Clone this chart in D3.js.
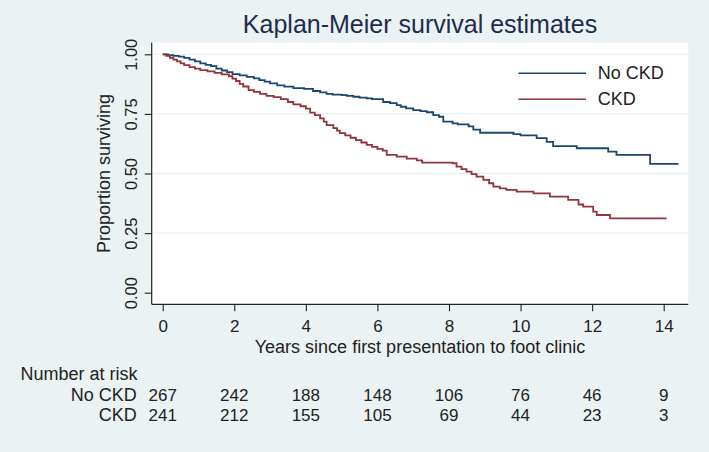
<!DOCTYPE html>
<html>
<head>
<meta charset="utf-8">
<script src="https://cdn.jsdelivr.net/npm/d3@7"></script>
<style>
  html, body { margin: 0; padding: 0; background: #EAF2F3; }
  svg { display: block; }
  text { font-family: "Liberation Sans", Arial, sans-serif; }
</style>
</head>
<body>
<svg id="chart" width="709" height="452"></svg>
<script>
// ---- data ----
const yTicks = [0, 0.25, 0.5, 0.75, 1.0];
const xTicks = [0, 2, 4, 6, 8, 10, 12, 14];
const seriesNames = ["No CKD", "CKD"];

const noCkdTime = [0, 0.15, 0.3, 0.45, 0.6, 0.75, 0.9, 1.05, 1.2, 1.35, 1.5, 1.65, 1.8, 1.95, 2.15, 2.35, 2.55, 2.7, 2.85, 3.0, 3.2, 3.4, 3.65, 3.95, 4.2, 4.4, 4.58, 4.75, 5.0, 5.15, 5.33, 5.5, 5.7, 5.85, 6.16, 6.35, 6.54, 6.65, 6.8, 7.0, 7.2, 7.38, 7.56, 7.72, 7.84, 8.1, 8.25, 8.55, 8.68, 8.87, 9.8, 10.0, 10.45, 10.73, 10.91, 11.57, 12.45, 12.68, 13.62];
const noCkdSurv = [1.0, 0.996, 0.993, 0.990, 0.985, 0.978, 0.970, 0.962, 0.956, 0.950, 0.940, 0.932, 0.925, 0.917, 0.912, 0.905, 0.899, 0.892, 0.885, 0.878, 0.870, 0.864, 0.858, 0.855, 0.846, 0.840, 0.834, 0.831, 0.829, 0.826, 0.822, 0.818, 0.815, 0.812, 0.800, 0.795, 0.787, 0.780, 0.773, 0.766, 0.762, 0.757, 0.745, 0.738, 0.718, 0.710, 0.706, 0.698, 0.684, 0.671, 0.665, 0.660, 0.648, 0.633, 0.615, 0.606, 0.592, 0.578, 0.540];
const noCkdEnd = 14.41;

const ckdTime = [0, 0.1, 0.2, 0.3, 0.4, 0.5, 0.6, 0.75, 0.9, 1.05, 1.25, 1.45, 1.65, 1.85, 1.95, 2.05, 2.15, 2.25, 2.4, 2.55, 2.72, 2.9, 3.1, 3.3, 3.5, 3.65, 3.85, 4.0, 4.12, 4.25, 4.4, 4.5, 4.58, 4.77, 4.87, 4.95, 5.1, 5.25, 5.4, 5.55, 5.7, 5.85, 6.0, 6.15, 6.26, 6.54, 6.82, 7.1, 7.25, 8.1, 8.21, 8.35, 8.49, 8.63, 8.77, 8.96, 9.12, 9.24, 9.42, 9.6, 9.89, 10.36, 10.82, 11.33, 11.62, 11.75, 12.03, 12.13, 12.5];
const ckdSurv = [1.0, 0.993, 0.985, 0.978, 0.970, 0.962, 0.955, 0.946, 0.940, 0.934, 0.928, 0.922, 0.916, 0.908, 0.898, 0.888, 0.876, 0.865, 0.850, 0.842, 0.834, 0.826, 0.820, 0.812, 0.800, 0.790, 0.782, 0.772, 0.755, 0.745, 0.731, 0.718, 0.703, 0.690, 0.680, 0.669, 0.660, 0.650, 0.640, 0.630, 0.620, 0.612, 0.603, 0.596, 0.578, 0.571, 0.562, 0.555, 0.546, 0.543, 0.529, 0.518, 0.508, 0.497, 0.487, 0.473, 0.459, 0.445, 0.438, 0.431, 0.424, 0.417, 0.403, 0.389, 0.370, 0.361, 0.340, 0.326, 0.312];
const ckdEnd = 14.08;

const riskTimes = [0, 2, 4, 6, 8, 10, 12, 14];
const noCkdRisk = [267, 242, 188, 148, 106, 76, 46, 9];
const ckdRisk = [241, 212, 155, 105, 69, 44, 23, 3];

// ---- layout ----
const colors = ["#1a476f", "#90353b"];
const plotLeft = 151.7, plotRight = 688.3, plotTop = 42.7, plotBottom = 304.3;

const svg = d3.select("#chart");
svg.append("rect").attr("width", 709).attr("height", 452).attr("fill", "#EAF2F3");

const x = d3.scaleLinear().domain([0, 14]).range([162.7, 663.7]);
const y = d3.scaleLinear().domain([0, 1]).range([292.7, 54.3]);

// plot region
svg.append("rect")
  .attr("x", plotLeft).attr("y", plotTop)
  .attr("width", plotRight - plotLeft).attr("height", plotBottom - plotTop)
  .attr("fill", "#ffffff");

// gridlines
svg.append("g").selectAll("line")
  .data(yTicks.filter(d => d > 0))
  .join("line")
  .attr("x1", plotLeft).attr("x2", plotRight)
  .attr("y1", d => y(d)).attr("y2", d => y(d))
  .attr("stroke", "#EAF2F3").attr("stroke-width", 1.3);

// y axis
const yAxis = d3.axisLeft(y).tickValues(yTicks).tickFormat(d3.format(".2f")).tickSizeOuter(0).tickSize(7);
const gy = svg.append("g").attr("transform", `translate(${plotLeft},0)`).call(yAxis);
gy.select(".domain").attr("d", `M0,${plotTop}V${plotBottom}`).attr("stroke", "#222").attr("stroke-width", 1.2);
gy.selectAll(".tick line").attr("stroke", "#222").attr("stroke-width", 1.1);
gy.selectAll(".tick text")
  .attr("font-size", 16.5).attr("fill", "#222")
  .attr("x", 0).attr("dy", 0)
  .attr("text-anchor", "middle")
  .attr("transform", "translate(-15,0) rotate(-90)");

// x axis
const xAxis = d3.axisBottom(x).tickValues(xTicks).tickFormat(d3.format("d")).tickSizeOuter(0).tickSize(7);
const gx = svg.append("g").attr("transform", `translate(0,${plotBottom})`).call(xAxis);
gx.select(".domain").attr("d", `M${plotLeft},0H${plotRight}`).attr("stroke", "#222").attr("stroke-width", 1.2);
gx.selectAll(".tick line").attr("stroke", "#222").attr("stroke-width", 1.1);
gx.selectAll(".tick text")
  .attr("font-size", 17).attr("fill", "#222")
  .attr("y", 28).attr("dy", 0);

// axis titles
svg.append("text")
  .attr("transform", `translate(110,${(plotTop + plotBottom) / 2}) rotate(-90)`)
  .attr("text-anchor", "middle").attr("font-size", 18).attr("fill", "#222")
  .text("Proportion surviving");
svg.append("text")
  .attr("x", (plotLeft + plotRight) / 2).attr("y", 352.5)
  .attr("text-anchor", "middle").attr("font-size", 18).attr("fill", "#222")
  .text("Years since first presentation to foot clinic");

// title
svg.append("text")
  .attr("x", (plotLeft + plotRight) / 2).attr("y", 33)
  .attr("text-anchor", "middle").attr("font-size", 25).attr("fill", "#1e2b4d")
  .text("Kaplan-Meier survival estimates");

// curves
const series = [
  { name: seriesNames[0], t: noCkdTime, s: noCkdSurv, end: noCkdEnd },
  { name: seriesNames[1], t: ckdTime, s: ckdSurv, end: ckdEnd }
];
const line = d3.line().x(d => x(d[0])).y(d => y(d[1])).curve(d3.curveStepAfter);
series.forEach((ser, i) => {
  const pts = ser.t.map((t, k) => [t, ser.s[k]]);
  pts.push([ser.end, ser.s[ser.s.length - 1]]);
  svg.append("path").datum(pts)
    .attr("d", line)
    .attr("fill", "none")
    .attr("stroke", colors[i])
    .attr("stroke-width", 1.8);
});

// legend
const legY = [73.3, 99.3];
series.forEach((ser, i) => {
  svg.append("line")
    .attr("x1", 518.3).attr("x2", 586)
    .attr("y1", legY[i]).attr("y2", legY[i])
    .attr("stroke", colors[i]).attr("stroke-width", 1.5);
  svg.append("text")
    .attr("x", 597.7).attr("y", legY[i] + 6)
    .attr("font-size", 18).attr("fill", "#222")
    .text(ser.name);
});

// number at risk table
svg.append("text").attr("x", 20.5).attr("y", 380)
  .attr("font-size", 18).attr("fill", "#222").text("Number at risk");
const rows = [
  { label: seriesNames[0], vals: noCkdRisk, y: 400.5 },
  { label: seriesNames[1], vals: ckdRisk, y: 421 }
];
rows.forEach(r => {
  svg.append("text").attr("x", 136.7).attr("y", r.y)
    .attr("text-anchor", "end").attr("font-size", 18).attr("fill", "#222")
    .text(r.label);
  svg.append("g").selectAll("text")
    .data(r.vals)
    .join("text")
    .attr("x", (d, k) => x(riskTimes[k]))
    .attr("y", r.y)
    .attr("text-anchor", "middle").attr("font-size", 17).attr("fill", "#222")
    .text(d => d);
});
</script>
</body>
</html>
